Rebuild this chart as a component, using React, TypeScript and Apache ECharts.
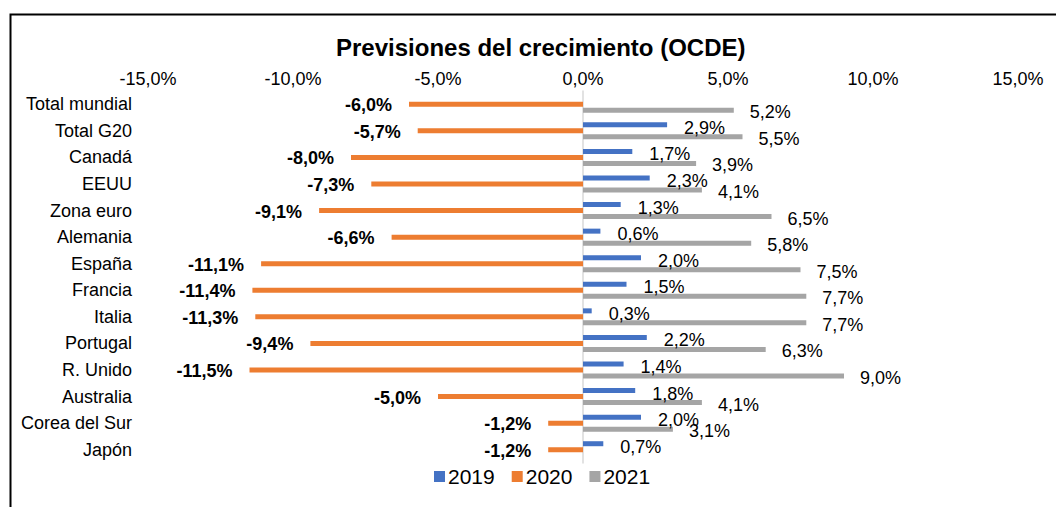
import React, { useEffect, useRef } from "react";
import * as echarts from "echarts";

const categories = [
  "Total mundial",
  "Total G20",
  "Canadá",
  "EEUU",
  "Zona euro",
  "Alemania",
  "España",
  "Francia",
  "Italia",
  "Portugal",
  "R. Unido",
  "Australia",
  "Corea del Sur",
  "Japón",
];
const values2019: (number | null)[] = [null, 2.9, 1.7, 2.3, 1.3, 0.6, 2.0, 1.5, 0.3, 2.2, 1.4, 1.8, 2.0, 0.7];
const values2020: (number | null)[] = [-6.0, -5.7, -8.0, -7.3, -9.1, -6.6, -11.1, -11.4, -11.3, -9.4, -11.5, -5.0, -1.2, -1.2];
const values2021: (number | null)[] = [5.2, 5.5, 3.9, 4.1, 6.5, 5.8, 7.5, 7.7, 7.7, 6.3, 9.0, 4.1, 3.1, null];
const seriesNames = ["2019", "2020", "2021"];
const title = "Previsiones del crecimiento (OCDE)";

const FONT = "'Liberation Sans', Arial, sans-serif";
const fmt = (v: number) => v.toFixed(1).replace(".", ",") + "%";

export default function App() {
  const ref = useRef<HTMLDivElement>(null);
  useEffect(() => {
    if (!ref.current) return;
    const chart = echarts.init(ref.current, undefined, { renderer: "svg" });
    const labelBase = {
      show: true,
      fontFamily: FONT,
      fontSize: 18,
      color: "#000",
      formatter: (p: any) => fmt(p.value),
    };
    chart.setOption({
      animation: false,
      textStyle: { fontFamily: FONT },
      title: {
        text: title,
        left: 336,
        top: 35,
        padding: 0,
        textStyle: { fontFamily: FONT, fontSize: 24, fontWeight: "bold", color: "#000" },
      },
      legend: {
        top: 466,
        left: 434,
        padding: 0,
        itemWidth: 11,
        itemHeight: 11,
        itemGap: 17,
        icon: "rect",
        textStyle: { fontFamily: FONT, fontSize: 21, color: "#000", padding: [0, 0, 0, -2] },
        data: seriesNames,
      },
      grid: { left: 148, right: 38, top: 91, bottom: 44 },
      xAxis: {
        type: "value",
        position: "top",
        min: -15,
        max: 15,
        interval: 5,
        axisLine: { show: false },
        axisTick: { show: false },
        splitLine: { show: false },
        axisLabel: {
          margin: 3,
          fontFamily: FONT,
          fontSize: 18,
          color: "#000",
          formatter: (v: number) => fmt(v),
        },
      },
      yAxis: {
        type: "category",
        inverse: true,
        data: categories,
        axisLine: { show: true, onZero: true, lineStyle: { color: "#d9d9d9", width: 1.5 } },
        axisTick: { show: false },
        axisLabel: { margin: 16, fontFamily: FONT, fontSize: 18, color: "#000" },
      },
      series: [
        {
          name: seriesNames[0],
          type: "bar",
          data: values2019,
          barWidth: 5,
          barGap: "20%",
          itemStyle: { color: "#4472C4" },
          label: { ...labelBase, position: "right", distance: 17, offset: [0, 3] },
        },
        {
          name: seriesNames[1],
          type: "bar",
          data: values2020,
          barWidth: 5,
          barGap: "20%",
          itemStyle: { color: "#ED7D31" },
          label: { ...labelBase, position: "left", distance: 17, fontWeight: "bold", offset: [0, 1] },
        },
        {
          name: seriesNames[2],
          type: "bar",
          data: values2021,
          barWidth: 5,
          barGap: "20%",
          itemStyle: { color: "#A5A5A5" },
          label: { ...labelBase, position: "right", distance: 16, offset: [0, 2] },
        },
      ],
      graphic: [
        {
          type: "rect",
          shape: { x: 10.5, y: 14.5, width: 1200, height: 700 },
          style: { fill: "none", stroke: "#000", lineWidth: 2 },
          silent: true,
        },
      ],
    });
    return () => chart.dispose();
  }, []);
  return (
    <div
      ref={ref}
      style={{ position: "absolute", left: 0, top: 0, width: 1056, height: 507, background: "#fff" }}
    />
  );
}
